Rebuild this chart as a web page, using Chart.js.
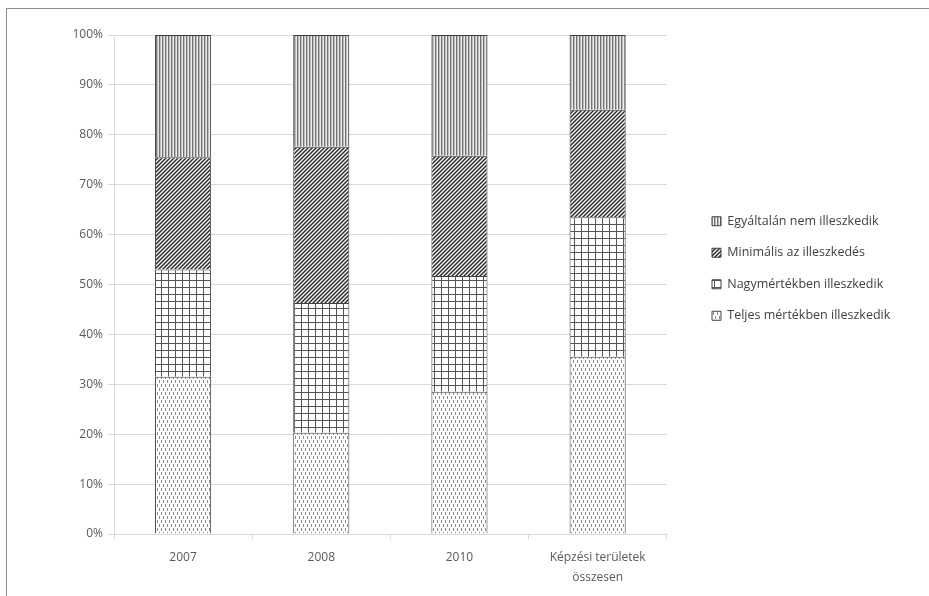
<!DOCTYPE html>
<html>
<head>
<meta charset="utf-8">
<script src="https://cdn.jsdelivr.net/npm/chart.js@4.4.1/dist/chart.umd.min.js"></script>
<style>
  html, body { margin: 0; padding: 0; background: #fff; }
  #wrap { position: relative; width: 929px; height: 596px; overflow: hidden; }
  #frame { position: absolute; left: 6px; top: 8px; width: 940px; height: 600px; border-top: 1px solid #8c8c8c; border-left: 1px solid #8c8c8c; pointer-events: none; }
</style>
</head>
<body>
<div id="wrap">
  <canvas id="chart" width="929" height="596"></canvas>
  <div id="frame"></div>
</div>
<script>
const categories = ['2007', '2008', '2010', ['Képzési területek', 'összesen']];
const seriesNames = ['Teljes mértékben illeszkedik', 'Nagymértékben illeszkedik', 'Minimális az illeszkedés', 'Egyáltalán nem illeszkedik'];
const teljes = [31.5, 20.3, 28.5, 35.5];
const nagy = [21.5, 26.0, 23.2, 28.0];
const minimalis = [22.5, 31.3, 24.1, 21.5];
const egyaltalan = [24.5, 22.4, 24.2, 15.0];
const yTickLabels = ['0%', '10%', '20%', '30%', '40%', '50%', '60%', '70%', '80%', '90%', '100%'];

const ctx = document.getElementById('chart').getContext('2d');

// small tiles for the hatch fills
function makePattern(w, h, paint) {
  const c = document.createElement('canvas');
  c.width = w; c.height = h;
  const g = c.getContext('2d');
  g.fillStyle = '#fff';
  g.fillRect(0, 0, w, h);
  paint(g);
  return ctx.createPattern(c, 'repeat');
}

const dots = makePattern(4, 8, g => {
  g.fillStyle = '#8c8c8c';
  g.fillRect(1, 0, 1, 3);
  g.fillRect(3, 4, 1, 3);
});
const grid = makePattern(7, 7, g => {
  g.fillStyle = '#555';
  g.fillRect(0, 0, 7, 1);
  g.fillRect(0, 0, 1, 7);
});
const diagonal = makePattern(4, 4, g => {
  for (let x = 0; x < 4; x++) {
    for (let y = 0; y < 4; y++) {
      const k = (x + y) % 4;
      if (k === 3) { g.fillStyle = '#2b2b2b'; g.fillRect(x, y, 1, 1); }
      else if (k === 0 || k === 2) { g.fillStyle = '#8a8a8a'; g.fillRect(x, y, 1, 1); }
    }
  }
});
const vertical = makePattern(3, 1, g => {
  g.fillStyle = '#707070'; g.fillRect(0, 0, 1, 1);
  g.fillStyle = '#bdbdbd'; g.fillRect(1, 0, 1, 1);
  g.fillStyle = '#ececec'; g.fillRect(2, 0, 1, 1);
});

// put the legend block to the right of the plot, rows starting near the middle
const legendSpot = {
  id: 'legendSpot',
  afterLayout(chart) {
    const l = chart.legend;
    const w = l.width, h = l.height;
    l.left = 693; l.right = 693 + w;
    l.top = 196; l.bottom = 196 + h;
  }
};

const font = { family: 'Open Sans', size: 12 };

new Chart(ctx, {
  type: 'bar',
  data: {
    labels: categories,
    datasets: [
      { label: seriesNames[0], data: teljes, backgroundColor: dots },
      { label: seriesNames[1], data: nagy, backgroundColor: grid },
      { label: seriesNames[2], data: minimalis, backgroundColor: diagonal },
      { label: seriesNames[3], data: egyaltalan, backgroundColor: vertical }
    ]
  },
  options: {
    responsive: false,
    animation: false,
    layout: { padding: { left: 0, top: 35, right: 55, bottom: 0 } },
    datasets: {
      bar: { barPercentage: 0.406, categoryPercentage: 1, borderColor: '#404040', borderWidth: 1 }
    },
    scales: {
      x: {
        stacked: true,
        grid: { drawOnChartArea: false, tickLength: 5, color: '#d9d9d9' },
        border: { color: '#d9d9d9' },
        ticks: { color: '#595959', font: { family: 'Open Sans', size: 12, lineHeight: 1.7 }, padding: 8, maxRotation: 0 },
        afterFit: s => { s.height = 62; }
      },
      y: {
        stacked: true,
        min: 0,
        max: 100,
        ticks: { stepSize: 10, color: '#595959', font: font, padding: 5, callback: (v, i) => yTickLabels[i] },
        grid: { color: '#d9d9d9', tickLength: 6 },
        border: { color: '#d9d9d9' },
        afterFit: s => { s.width = 114; }
      }
    },
    plugins: {
      legend: {
        position: 'right',
        align: 'start',
        reverse: true,
        labels: { boxWidth: 9, boxHeight: 9, padding: 19, color: '#404040', font: { family: 'Open Sans', size: 12.5 } }
      },
      tooltip: { enabled: false }
    }
  },
  plugins: [legendSpot]
});
</script>
</body>
</html>
